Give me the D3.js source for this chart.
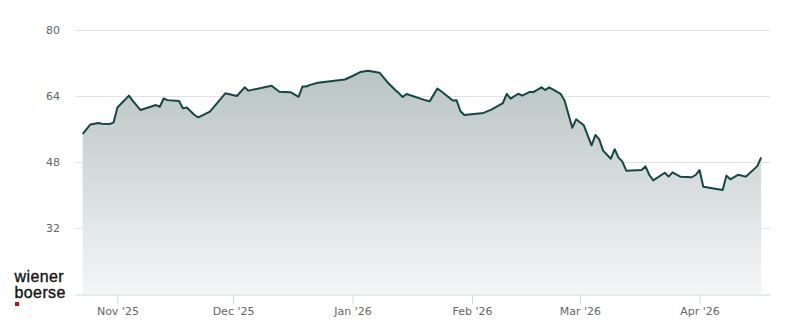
<!DOCTYPE html>
<html>
<head>
<meta charset="utf-8">
<script src="https://cdn.jsdelivr.net/npm/d3@7"></script>
<style>
    html, body { margin: 0; padding: 0; background: #fff; }
    svg { display: block; font-family: "DejaVu Sans", sans-serif; }
</style>
</head>
<body>
<svg id="chart" width="800" height="324"></svg>
<script>
(function () {
    "use strict";

    // price history
    var dates = [
        "2025-10-23", "2025-10-25", "2025-10-27", "2025-10-28", "2025-10-30", "2025-10-31",
        "2025-11-01", "2025-11-04", "2025-11-05", "2025-11-07", "2025-11-11", "2025-11-12",
        "2025-11-13", "2025-11-14", "2025-11-17", "2025-11-18", "2025-11-19", "2025-11-21",
        "2025-11-22", "2025-11-25", "2025-11-29", "2025-12-02", "2025-12-04", "2025-12-05",
        "2025-12-11", "2025-12-13", "2025-12-16", "2025-12-18", "2025-12-19", "2025-12-20",
        "2025-12-21", "2025-12-23", "2025-12-30", "2026-01-01", "2026-01-03", "2026-01-05",
        "2026-01-08", "2026-01-10", "2026-01-12", "2026-01-13", "2026-01-14", "2026-01-15",
        "2026-01-20", "2026-01-21", "2026-01-23", "2026-01-24", "2026-01-27", "2026-01-28",
        "2026-01-29", "2026-01-30", "2026-02-04", "2026-02-06", "2026-02-09", "2026-02-10",
        "2026-02-11", "2026-02-13", "2026-02-14", "2026-02-16", "2026-02-17", "2026-02-19",
        "2026-02-20", "2026-02-21", "2026-02-24", "2026-02-25", "2026-02-27", "2026-02-28",
        "2026-03-02", "2026-03-04", "2026-03-05", "2026-03-06", "2026-03-07", "2026-03-09",
        "2026-03-10", "2026-03-11", "2026-03-12", "2026-03-13", "2026-03-17", "2026-03-18",
        "2026-03-19", "2026-03-20", "2026-03-23", "2026-03-24", "2026-03-25", "2026-03-27",
        "2026-03-30", "2026-03-31", "2026-04-01", "2026-04-02", "2026-04-07", "2026-04-08",
        "2026-04-09", "2026-04-11", "2026-04-13", "2026-04-16", "2026-04-17"
    ];
    var prices = [
        54.8, 57.1, 57.45, 57.3, 57.2, 57.6,
        61.2, 64.1, 62.8, 60.6, 61.8, 61.4,
        63.4, 63.0, 62.8, 61.0, 61.2, 59.4,
        58.8, 60.2, 64.65, 64.0, 66.1, 65.3,
        66.5, 65.05, 64.9, 63.8, 66.3, 66.3,
        66.7, 67.2, 68.0, 68.85, 69.8, 70.1,
        69.65, 67.4, 65.5, 64.7, 63.75, 64.5,
        62.95, 62.7, 65.8, 65.15, 62.9, 62.95,
        60.3, 59.4, 59.9, 60.7, 62.3, 64.5,
        63.35, 64.55, 64.1, 65.0, 65.0, 66.1,
        65.45, 66.1, 64.5, 62.9, 56.3, 58.35,
        56.9, 52.05, 54.55, 53.5, 50.75, 48.8,
        51.1, 49.05, 48.1, 45.9, 46.05, 46.95,
        44.85, 43.55, 45.4, 44.45, 45.5, 44.45,
        44.3, 44.85, 46.05, 42.0, 41.2, 44.7,
        43.8, 44.9, 44.45, 47.0, 49.1
    ];
    var yTicks = [32, 48, 64, 80];
    var xTickLabels = ["Nov '25", "Dec '25", "Jan '26", "Feb '26", "Mar '26", "Apr '26"];

    var parseDate = d3.timeParse("%Y-%m-%d");
    var points = dates.map(function (d, i) {
        return { date: parseDate(d), value: prices[i] };
    });
    var xTickDates = xTickLabels.map(function (l, i) {
        return new Date(2025, 10 + i, 1);
    });

    var left = 75, right = 770, top = 30, bottom = 294;

    var x = d3.scaleTime()
        .domain([new Date(2025, 9, 21), new Date(2026, 3, 19, 7)])
        .range([left, right]);
    var y = d3.scaleLinear()
        .domain([16, 80])
        .range([bottom, top]);

    var $svg = d3.select("#chart");

    // fill gradient under the line
    var grad = $svg.append("defs").append("linearGradient")
        .attr("id", "fill")
        .attr("gradientUnits", "userSpaceOnUse")
        .attr("x1", 0).attr("y1", top)
        .attr("x2", 0).attr("y2", bottom);
    grad.append("stop").attr("offset", "0%").attr("stop-color", "#aebbba");
    grad.append("stop").attr("offset", "100%").attr("stop-color", "#f4f6f6");

    // horizontal grid
    $svg.append("g")
        .selectAll("line")
        .data(yTicks)
        .enter()
        .append("line")
        .attr("x1", left)
        .attr("x2", right)
        .attr("y1", function (d) { return Math.round(y(d)) + 0.5; })
        .attr("y2", function (d) { return Math.round(y(d)) + 0.5; })
        .attr("stroke", "#e2e2e2")
        .attr("stroke-width", 1);

    // y labels
    $svg.append("g")
        .selectAll("text")
        .data(yTicks)
        .enter()
        .append("text")
        .attr("x", 60)
        .attr("y", function (d) { return y(d); })
        .attr("dy", "0.35em")
        .attr("text-anchor", "end")
        .attr("font-size", 11)
        .attr("fill", "#666")
        .text(function (d) { return d; });

    // area + line
    var area = d3.area()
        .x(function (d) { return x(d.date); })
        .y0(bottom)
        .y1(function (d) { return y(d.value); });
    var line = d3.line()
        .x(function (d) { return x(d.date); })
        .y(function (d) { return y(d.value); });

    $svg.append("path")
        .datum(points)
        .attr("d", area)
        .attr("fill", "url(#fill)");

    $svg.append("path")
        .datum(points)
        .attr("d", line)
        .attr("fill", "none")
        .attr("stroke", "#124843")
        .attr("stroke-width", 2)
        .attr("stroke-linejoin", "round");

    // x axis
    var xAxis = d3.axisBottom(x)
        .tickValues(xTickDates)
        .tickSize(9)
        .tickSizeOuter(0)
        .tickPadding(4)
        .tickFormat(function (d, i) { return xTickLabels[i]; });

    var $axis = $svg.append("g")
        .attr("transform", "translate(0," + (bottom + 0.5) + ")")
        .call(xAxis);
    $axis.select(".domain").attr("stroke", "#ccd6eb");
    $axis.selectAll(".tick line").attr("stroke", "#ccd6eb");
    $axis.selectAll(".tick text")
        .attr("font-family", "DejaVu Sans, sans-serif")
        .attr("font-size", 11)
        .attr("fill", "#666");

    // logo
    var $logo = $svg.append("g")
        .attr("font-family", "Liberation Sans, Arial, sans-serif")
        .attr("font-size", 16)
        .attr("letter-spacing", 0.4)
        .attr("fill", "#111")
        .attr("stroke", "#111")
        .attr("stroke-width", 0.35);
    $logo.append("text").attr("x", 14.5).attr("y", 282).text("wiener");
    $logo.append("text").attr("x", 14.5).attr("y", 298).text("boerse");
    $svg.append("rect")
        .attr("x", 15).attr("y", 302)
        .attr("width", 4).attr("height", 4)
        .attr("fill", "#d4001a");
}());
</script>
</body>
</html>
